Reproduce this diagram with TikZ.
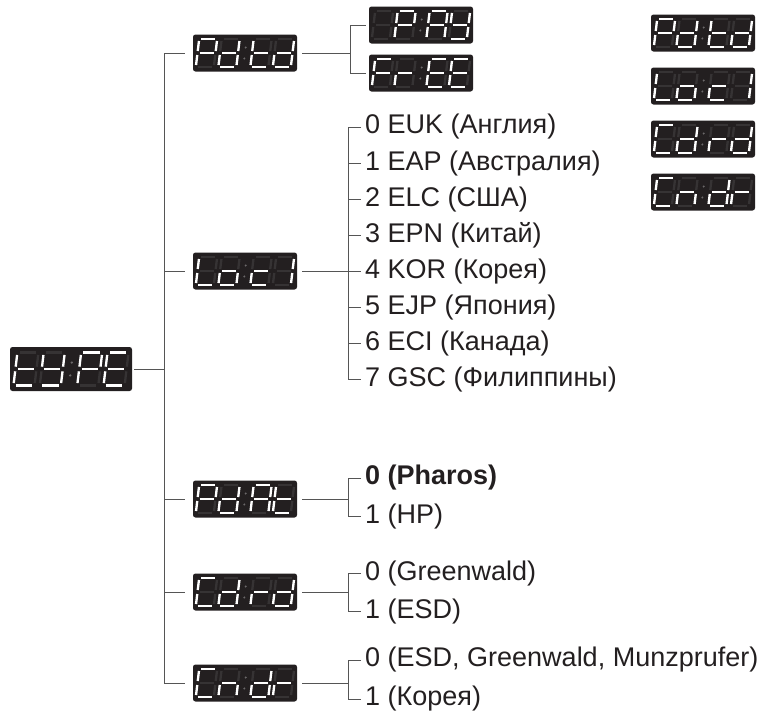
\documentclass[tikz,border=0pt]{standalone}
\usepackage{fontspec}
\setmainfont{Liberation Sans}
\definecolor{ledbg}{HTML}{231F20}
\definecolor{ledoff}{HTML}{363334}
\definecolor{leddot}{HTML}{6B6869}
\definecolor{ink}{HTML}{231F20}
\definecolor{wire}{HTML}{555555}
\tikzset{
  ledbox/.style={fill=ledbg,rounded corners=2.5pt,minimum width=104pt,minimum height=37pt,inner sep=0pt},
  bigbox/.style={ledbox,minimum width=122pt,minimum height=44pt},
  segoff/.style={ledoff,line width=2.3pt},
  segon/.style={white,line width=2.3pt},
  conn/.style={wire,line width=.9pt},
  opt/.style={anchor=west,inner sep=0pt,text=ink,font=\fontsize{27}{31}\selectfont},
}
% one digit of a display: x offset, lit segments
\newcommand{\leddigit}[2]{%
  \begin{scope}[shift={(#1,0)}]
    \coordinate (a1) at (-7,14);  \coordinate (a2) at (7,14);
    \coordinate (b1) at (9,12);   \coordinate (b2) at (9,2);
    \coordinate (c1) at (9,-2);   \coordinate (c2) at (9,-12);
    \coordinate (d1) at (-7,-14); \coordinate (d2) at (7,-14);
    \coordinate (e1) at (-9,-2);  \coordinate (e2) at (-9,-12);
    \coordinate (f1) at (-9,12);  \coordinate (f2) at (-9,2);
    \coordinate (g1) at (-7,0);   \coordinate (g2) at (7,0);
    \foreach \s in {a,b,c,d,e,f,g} \draw[segoff] (\s1) -- (\s2);
    \if\relax\detokenize{#2}\relax\else
      \foreach \s in {#2} \draw[segon] (\s1) -- (\s2);
    \fi
  \end{scope}}
% four digits and the colon on a display node
\newcommand{\ledshow}[6]{%
  \begin{scope}[shift={(#1.center)},scale=#2,xslant=.12]
    \leddigit{-38.5}{#3}\leddigit{-16}{#4}\leddigit{16}{#5}\leddigit{38.5}{#6}
    \fill[leddot] (0,5.5) circle (1.1) (0,-5.5) circle (1.1);
  \end{scope}}
\begin{document}
\begin{tikzpicture}[x=1pt,y=1pt]
\useasboundingbox (0,0) rectangle (765,-716);
% displays
\node[bigbox] (ptype) at (71,-369) {};
\node[ledbox] (pdtd) at (245,-53) {};
\node[ledbox] (ppay) at (421,-25) {};
\node[ledbox] (pfree) at (421,-73) {};
\node[ledbox] (plocl) at (245,-271) {};
\node[ledbox] (ppdat) at (245,-499) {};
\node[ledbox] (pcdrd) at (245,-592) {};
\node[ledbox] (pcndr) at (245,-683) {};
\node[ledbox] (kpdtd) at (703,-33) {};
\node[ledbox] (klocl) at (703,-86) {};
\node[ledbox] (kcdrd) at (703,-139) {};
\node[ledbox] (kcndr) at (703,-192) {};
\ledshow{ptype}{1.17}{d,e,f,g}{b,c,d,f,g}{a,b,e,f,g}{a,d,e,f,g}
\ledshow{pdtd}{1}{a,b,e,f,g}{b,c,d,e,g}{d,e,f,g}{b,c,d,e,g}
\ledshow{ppay}{1}{}{a,b,e,f,g}{a,b,c,e,f,g}{b,c,d,f,g}
\ledshow{pfree}{1}{a,e,f,g}{e,g}{a,d,e,f,g}{a,d,e,f,g}
\ledshow{plocl}{1}{d,e,f}{c,d,e,g}{d,e,g}{b,c}
\ledshow{ppdat}{1}{a,b,e,f,g}{b,c,d,e,g}{a,b,c,e,f,g}{d,e,f,g}
\ledshow{pcdrd}{1}{a,d,e,f}{b,c,d,e,g}{e,g}{b,c,d,e,g}
\ledshow{pcndr}{1}{a,d,e,f}{c,e,g}{b,c,d,e,g}{e,g}
\ledshow{kpdtd}{1}{a,b,e,f,g}{b,c,d,e,g}{d,e,f,g}{b,c,d,e,g}
\ledshow{klocl}{1}{d,e,f}{c,d,e,g}{d,e,g}{b,c}
\ledshow{kcdrd}{1}{a,d,e,f}{b,c,d,e,g}{e,g}{b,c,d,e,g}
\ledshow{kcndr}{1}{a,d,e,f}{c,e,g}{b,c,d,e,g}{e,g}
% options
\foreach \t [count=\i from 0] in {0 EUK (Англия),1 EAP (Австралия),2 ELC (США),
  3 EPN (Китай),4 KOR (Корея),5 EJP (Япония),6 ECI (Канада),7 GSC (Филиппины)}
  \node[opt] (loc\i) at (365,-127-36.1*\i) {\t};
\node[opt] (dat0) at (365,-478) {\textbf{0 (Pharos)}};
\node[opt] (dat1) at (365,-516) {1 (HP)};
\node[opt] (crd0) at (365,-573) {0 (Greenwald)};
\node[opt] (crd1) at (365,-611) {1 (ESD)};
\node[opt] (ndr0) at (365,-660) {0 (ESD, Greenwald, Munzprufer)};
\node[opt] (ndr1) at (365,-699) {1 (Корея)};
% connectors
\coordinate (trunk) at (164,0);
\coordinate (pbr) at (350,0);
\coordinate (obr) at (348,0);
\draw[conn] ([xshift=2pt]ptype.east) -- (ptype.east -| trunk);
\draw[conn] ([xshift=-8pt]pdtd.west) -- (pdtd.west -| trunk) -- (pcndr.west -| trunk) -- ([xshift=-8pt]pcndr.west);
\foreach \n in {plocl,ppdat,pcdrd}
  \draw[conn] (\n.west -| trunk) -- ([xshift=-8pt]\n.west);
\draw[conn] ([xshift=5pt]pdtd.east) -- (pdtd.east -| pbr);
\draw[conn] ([xshift=-3pt]ppay.west) -- (ppay.west -| pbr) -- (pfree.west -| pbr) -- ([xshift=-3pt]pfree.west);
\draw[conn] ([xshift=5pt]plocl.east) -- (plocl.east -| obr);
\draw[conn] ([xshift=-4pt]loc0.west) -- (loc0.west -| obr) -- (loc7.west -| obr) -- ([xshift=-4pt]loc7.west);
\foreach \i in {1,...,6}
  \draw[conn] (loc\i.west -| obr) -- ([xshift=-4pt]loc\i.west);
\foreach \n/\o in {ppdat/dat,pcdrd/crd,pcndr/ndr}{
  \draw[conn] ([xshift=5pt]\n.east) -- (\n.east -| obr);
  \draw[conn] ([xshift=-4pt]\o0.west) -- (\o0.west -| obr) -- (\o1.west -| obr) -- ([xshift=-4pt]\o1.west);
}
\end{tikzpicture}
\end{document}
